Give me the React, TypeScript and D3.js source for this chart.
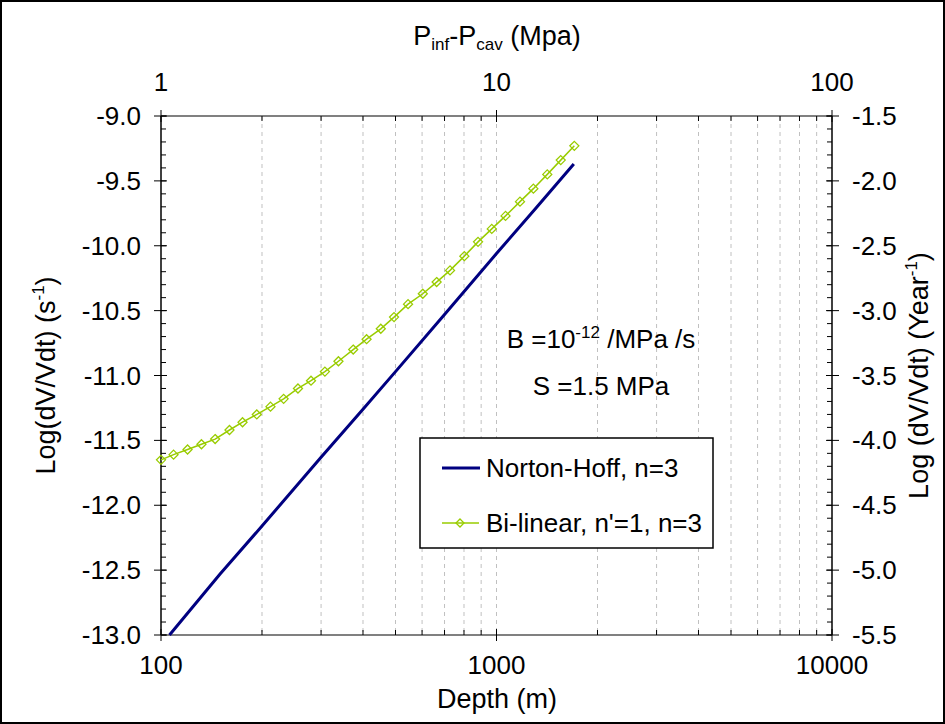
import React from 'react';
import * as d3 from 'd3';

// ---------- data ----------
const depthNH = [106, 150, 200, 300, 400, 500, 700, 1000, 1300, 1700];
const logRateNH = [-13.0, -12.53, -12.16, -11.63, -11.26, -10.97, -10.53, -10.06, -9.72, -9.37];

const depthBL = [100, 109, 120, 132, 145, 160, 175, 193, 212, 232, 256, 280, 308, 338, 374, 410, 452, 495, 545, 603, 663, 727, 802, 881, 968, 1064, 1175, 1288, 1417, 1554, 1706];
const logRateBL = [-11.65, -11.61, -11.57, -11.53, -11.49, -11.42, -11.36, -11.30, -11.24, -11.18, -11.10, -11.04, -10.97, -10.89, -10.80, -10.72, -10.64, -10.55, -10.45, -10.37, -10.28, -10.19, -10.08, -9.97, -9.87, -9.77, -9.66, -9.56, -9.45, -9.34, -9.23];

const depthTicks = [100, 1000, 10000];
const pressureTicks = [1, 10, 100];
const leftTicks = [-13.0, -12.5, -12.0, -11.5, -11.0, -10.5, -10.0, -9.5, -9.0];
const rightTicks = [-5.5, -5.0, -4.5, -4.0, -3.5, -3.0, -2.5, -2.0, -1.5];

const seriesNames = ['Norton-Hoff, n=3', "Bi-linear, n'=1, n=3"];

// ---------- layout ----------
const W = 945, H = 724;
const L = 161, R = 832, T = 116, B = 635;
const FONT = '"Liberation Sans", Arial, sans-serif';
const FS = 26;
const FT = 27;
const NAVY = '#000080';
const GREEN = '#99CC00';

const x = d3.scaleLog().domain([100, 10000]).range([L, R]);
const xTop = d3.scaleLog().domain([1, 100]).range([L, R]);
const y = d3.scaleLinear().domain([-13, -9]).range([B, T]);
const yR = d3.scaleLinear().domain([-5.5, -1.5]).range([B, T]);

const diamond = (cx: number, cy: number, r: number) =>
  `M${cx},${cy - r}L${cx + r},${cy}L${cx},${cy + r}L${cx - r},${cy}Z`;

export default function App() {
  const lineGen = d3.line<[number, number]>().x(d => x(d[0])).y(d => y(d[1]));
  const nhPts: [number, number][] = depthNH.map((d, i) => [d, logRateNH[i]]);
  const blPts: [number, number][] = depthBL.map((d, i) => [d, logRateBL[i]]);

  const allX = x.ticks();
  const minorX = allX.filter(v => !depthTicks.includes(v));
  const gridX = allX.filter(v => v !== 100 && v !== 10000);
  const minorTop = xTop.ticks().filter(v => !pressureTicks.includes(v));
  const minorY = d3.range(0, 41).map(i => -13 + i * 0.1);

  return (
    <div style={{ position: 'absolute', left: 0, top: 0 }}>
      <svg width={W} height={H} style={{ display: 'block', background: '#fff' }} fontFamily={FONT}>
        <rect x={1} y={1} width={W - 2} height={H - 2} fill="#fff" stroke="#000" strokeWidth={2} />

        {/* gridlines */}
        {gridX.map(v => (
          <line key={'g' + v} x1={x(v)} x2={x(v)} y1={T} y2={B} stroke="#c0c0c0" strokeWidth={1} strokeDasharray="4,4" />
        ))}

        {/* axes lines */}
        <line x1={L} x2={R} y1={T} y2={T} stroke="#808080" strokeWidth={2} />
        <line x1={L} x2={R} y1={B} y2={B} stroke="#808080" strokeWidth={2} />
        <line x1={L} x2={L} y1={T} y2={B} stroke="#000" strokeWidth={1.5} />
        <line x1={R} x2={R} y1={T} y2={B} stroke="#000" strokeWidth={1.5} />

        {/* y minor ticks */}
        {minorY.map((v, i) => (
          <g key={'my' + i}>
            <line x1={L} x2={L + 5} y1={y(v)} y2={y(v)} stroke="#000" strokeWidth={1} />
            <line x1={R - 5} x2={R} y1={y(v)} y2={y(v)} stroke="#000" strokeWidth={1} />
          </g>
        ))}
        {/* left major ticks + labels */}
        {leftTicks.map(v => (
          <g key={'l' + v}>
            <line x1={L - 7} x2={L + 6} y1={y(v)} y2={y(v)} stroke="#000" strokeWidth={1} />
            <text x={141} y={y(v)} dy="0.35em" textAnchor="end" fontSize={FS}>{v.toFixed(1)}</text>
          </g>
        ))}
        {/* right major ticks + labels */}
        {rightTicks.map(v => (
          <g key={'r' + v}>
            <line x1={R - 6} x2={R + 7} y1={yR(v)} y2={yR(v)} stroke="#000" strokeWidth={1} />
            <text x={852} y={yR(v)} dy="0.35em" textAnchor="start" fontSize={FS}>{v.toFixed(1)}</text>
          </g>
        ))}

        {/* bottom ticks */}
        {minorX.map(v => (
          <line key={'bx' + v} x1={x(v)} x2={x(v)} y1={B - 5} y2={B} stroke="#000" strokeWidth={1} />
        ))}
        {depthTicks.map(v => (
          <g key={'bt' + v}>
            <line x1={x(v)} x2={x(v)} y1={B - 6} y2={B + 6} stroke="#000" strokeWidth={1} />
            <text x={x(v)} y={674} textAnchor="middle" fontSize={FS}>{String(v)}</text>
          </g>
        ))}
        {/* top ticks */}
        {minorTop.map(v => (
          <line key={'tx' + v} x1={xTop(v)} x2={xTop(v)} y1={T} y2={T + 5} stroke="#000" strokeWidth={1} />
        ))}
        {pressureTicks.map(v => (
          <g key={'tt' + v}>
            <line x1={xTop(v)} x2={xTop(v)} y1={T - 6} y2={T + 6} stroke="#000" strokeWidth={1} />
            <text x={xTop(v)} y={91} textAnchor="middle" fontSize={FS}>{String(v)}</text>
          </g>
        ))}

        {/* series */}
        <path d={lineGen(nhPts) || ''} fill="none" stroke={NAVY} strokeWidth={3} />
        <path d={lineGen(blPts) || ''} fill="none" stroke={GREEN} strokeWidth={1.5} />
        {blPts.map((p, i) => (
          <path key={'m' + i} d={diamond(x(p[0]), y(p[1]), 4.5)} fill="none" stroke={GREEN} strokeWidth={1.3} />
        ))}

        {/* axis titles */}
        <text x={497} y={45} textAnchor="middle" fontSize={FT}>
          P<tspan fontSize={17} dy={5}>inf</tspan><tspan dy={-5}>-P</tspan><tspan fontSize={17} dy={5}>cav</tspan><tspan dy={-5}> (Mpa)</tspan>
        </text>
        <text x={497} y={708} textAnchor="middle" fontSize={FT}>Depth (m)</text>
        <text transform={`translate(55,${(T + B) / 2}) rotate(-90)`} textAnchor="middle" fontSize={FT}>
          Log(dV/Vdt) (s<tspan fontSize={17} dy={-11}>-1</tspan><tspan dy={11}>)</tspan>
        </text>
        <text transform={`translate(928,${(T + B) / 2}) rotate(-90)`} textAnchor="middle" fontSize={FT}>
          Log (dV/Vdt) (Year<tspan fontSize={17} dy={-11}>-1</tspan><tspan dy={11}>)</tspan>
        </text>

        {/* annotations */}
        <text x={601} y={348} textAnchor="middle" fontSize={FS}>
          B =10<tspan fontSize={17} dy={-10}>-12</tspan><tspan dy={10}> /MPa /s</tspan>
        </text>
        <text x={601} y={395} textAnchor="middle" fontSize={FS}>S =1.5 MPa</text>

        {/* legend */}
        <rect x={420} y={438} width={293} height={110} fill="#fff" stroke="#000" strokeWidth={1.5} />
        <line x1={442} x2={480} y1={468} y2={468} stroke={NAVY} strokeWidth={3} />
        <text x={486} y={477} fontSize={FS}>{seriesNames[0]}</text>
        <line x1={442} x2={479} y1={523} y2={523} stroke={GREEN} strokeWidth={1.5} />
        <path d={diamond(460, 523, 4)} fill="none" stroke={GREEN} strokeWidth={1.3} />
        <text x={486} y={532} fontSize={FS}>{seriesNames[1]}</text>
      </svg>
    </div>
  );
}
